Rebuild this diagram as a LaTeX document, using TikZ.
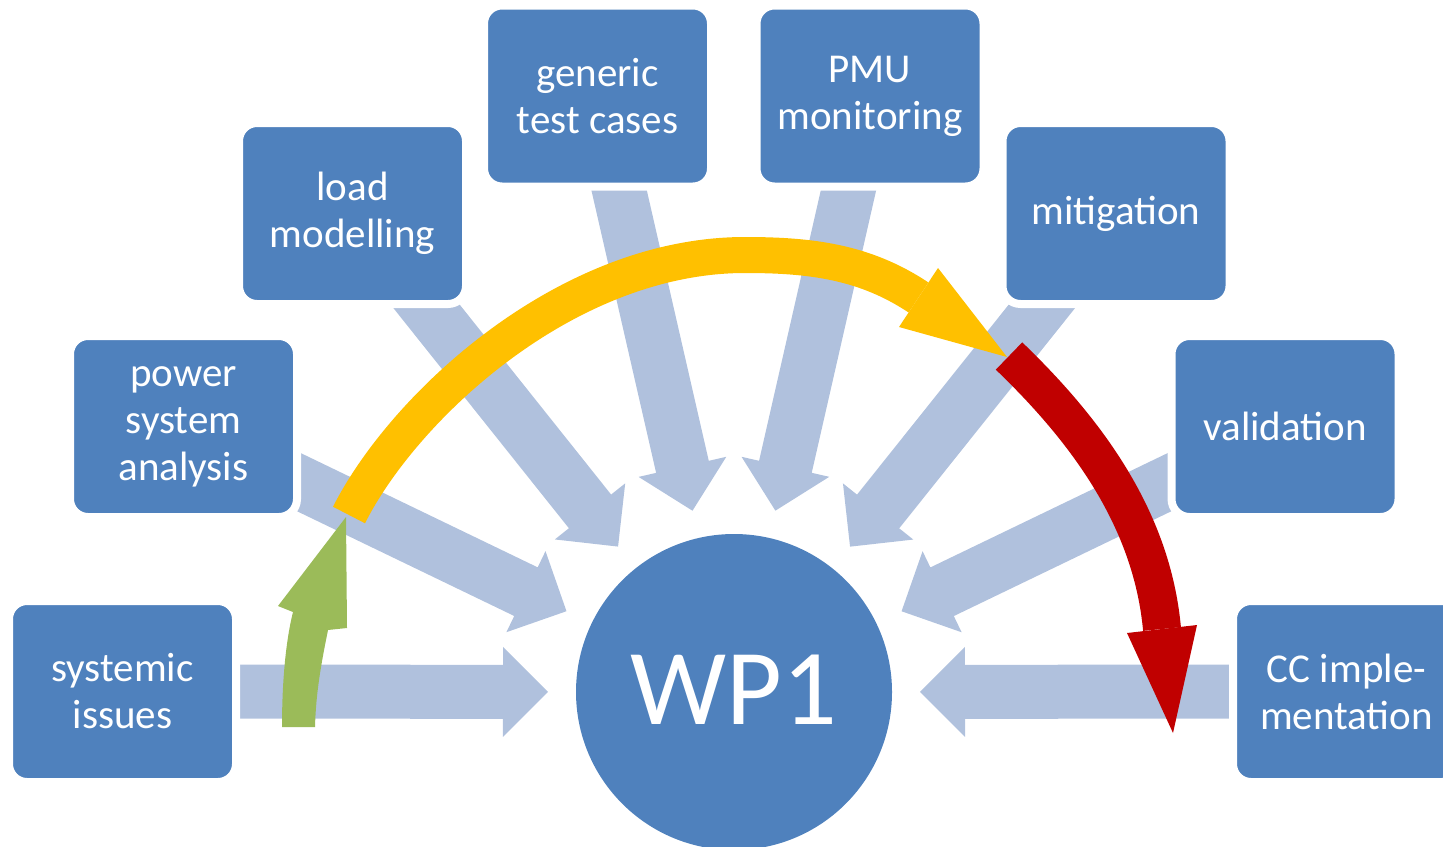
\documentclass[tikz,border=0pt]{standalone}
\usepackage{fontspec}
\setmainfont{Carlito}
\usetikzlibrary{calc,backgrounds}
\definecolor{boxblue}{RGB}{79,129,189}
\definecolor{feedblue}{RGB}{176,193,221}
\definecolor{arcyellow}{RGB}{255,192,0}
\definecolor{arcred}{RGB}{192,0,0}
\definecolor{arcgreen}{RGB}{155,187,89}
\newcommand\feedarrow[2]{%
  \fill[feed] let \p1=($(#1.center)-(#2.center)$), \n1={atan2(\y1,\x1)} in
    ($(#2.center)+(\n1:93pt)$)
    -- ($(#2.center)+(\n1:115.5pt)+(\n1+90:22.5pt)$)
    -- ($(#2.center)+(\n1:115.5pt)+(\n1+90:13.5pt)$)
    -- ($(#1.center)+(\n1+90:13.5pt)$)
    -- ($(#1.center)+(\n1-90:13.5pt)$)
    -- ($(#2.center)+(\n1:115.5pt)+(\n1-90:13.5pt)$)
    -- ($(#2.center)+(\n1:115.5pt)+(\n1-90:22.5pt)$)
    -- cycle;}
\tikzset{
  feed/.style={fill=feedblue},
  box/.style={rectangle, rounded corners=9pt, fill=boxblue, draw=white, line width=4pt,
    minimum width=113.5pt, minimum height=90.5pt, inner sep=0pt, text=white,
    font=\fontsize{20.5pt}{23.5pt}\selectfont, align=center},
  hub/.style={circle, fill=boxblue, minimum size=158pt, inner sep=0pt, text=white,
    font=\fontsize{54pt}{60pt}\selectfont},
  arcy/.style={draw=arcyellow, line width=18pt},
  arcr/.style={draw=arcred, line width=19pt},
  heady/.style={fill=arcyellow},
  headr/.style={fill=arcred},
  greenarrow/.style={fill=arcgreen}
}
\begin{document}
\begin{tikzpicture}[x=0.5pt,y=-0.5pt]
\useasboundingbox (0,0) rectangle (1443,846);
\clip (0,0) rectangle (1443,846);
\node[hub] (wp) at (734,692) {\raisebox{2.5pt}{WP1}};
\node[box] (sys) at (122.5,691.5) {systemic\\issues};
\node[box] (psa) at (183.5,426.5) {power\\system\\analysis};
\node[box] (load) at (352.5,213.5) {load\\modelling};
\node[box] (gen) at (597.5,96) {generic\\test cases};
\node[box] (pmu) at (870,96) {PMU\\monitoring};
\node[box] (mit) at (1116,213.5) {mitigation};
\node[box] (val) at (1285,426.5) {validation};
\node[box] (cc) at (1346.5,691.5) {CC imple-\\mentation};
\begin{pgfonlayer}{background}
\feedarrow{sys}{wp}
\feedarrow{psa}{wp}
\feedarrow{load}{wp}
\feedarrow{gen}{wp}
\feedarrow{pmu}{wp}
\feedarrow{mit}{wp}
\feedarrow{val}{wp}
\feedarrow{cc}{wp}
\end{pgfonlayer}
% green arrow
\coordinate (g0) at (298,727);
\coordinate (gtip) at (346,517);
\fill[greenarrow] (282,727) .. controls (282,680) and (286,640) .. (293,612)
  -- (278,606) -- (gtip) -- (347,628) -- (328,630)
  .. controls (322,660) and (316,690) .. (315,727) -- cycle;
% yellow arc
\coordinate (y0) at (349,515);
\coordinate (ytop) at (745,255);
\coordinate (ybase) at (918.5,297.5);
\coordinate (ytip) at (1007,357);
\draw[arcy] (y0) .. controls (403,408) and (565,255) .. (ytop)
  .. controls (810,255) and (864.5,261.5) .. (ybase);
\fill[heady] (938,268) -- (ytip) -- (899,327) -- cycle;
% red arc
\coordinate (r0) at (1009,356);
\coordinate (rbase) at (1162,629);
\coordinate (rtip) at (1173,733);
\draw[arcr] (r0) .. controls (1088,432) and (1152,520) .. (rbase);
\fill[headr] (1127,633) -- (rtip) -- (1197,625) -- cycle;
\end{tikzpicture}
\end{document}
